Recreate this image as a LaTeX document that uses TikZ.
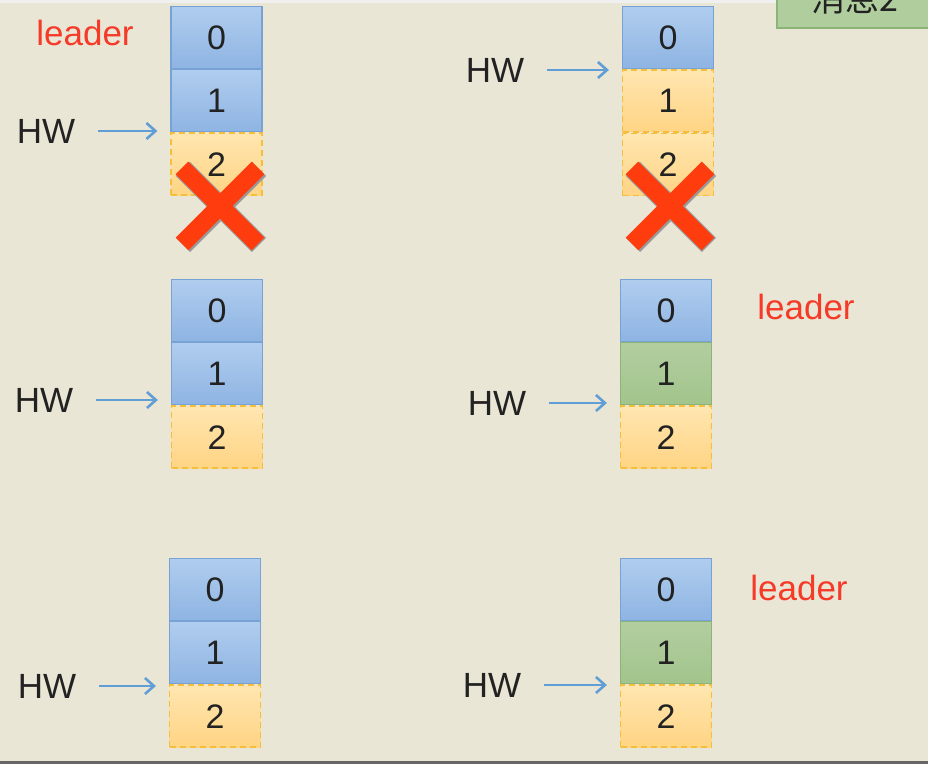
\documentclass[tikz,border=0pt]{standalone}
\usepackage{fontspec}
\setmainfont{Liberation Sans}
\newfontfamily\cjkfont{Noto Sans CJK SC}
\usepackage{tikz}
\usetikzlibrary{arrows.meta,positioning}
\usepackage{xcolor}
\definecolor{PaperBg}{RGB}{234,230,214}
\definecolor{BlueTop}{RGB}{176,205,238}
\definecolor{BlueBot}{RGB}{142,180,227}
\definecolor{BlueEdge}{RGB}{120,162,214}
\definecolor{GreenTop}{RGB}{178,206,160}
\definecolor{GreenBot}{RGB}{162,196,140}
\definecolor{GreenEdge}{RGB}{140,180,118}
\definecolor{OrangeTop}{RGB}{255,230,176}
\definecolor{OrangeBot}{RGB}{255,212,132}
\definecolor{OrangeEdge}{RGB}{247,190,60}
\definecolor{LeaderRed}{RGB}{246,58,40}
\definecolor{CrossRed}{RGB}{255,60,14}
\definecolor{ArrowBlue}{RGB}{98,158,214}
\definecolor{InkGray}{RGB}{34,34,34}

\tikzset{
  cell/.style={minimum width=45.5pt,minimum height=31pt,inner sep=0pt,
    font=\fontsize{17}{20}\selectfont,text=InkGray,line width=0.6pt},
  bluecell/.style={cell,draw=BlueEdge,top color=BlueTop,bottom color=BlueBot},
  greencell/.style={cell,draw=GreenEdge,top color=GreenTop,bottom color=GreenBot},
  orangecell/.style={cell,draw=OrangeEdge,line width=0.8pt,dash pattern=on 3pt off 2pt,
    top color=OrangeTop,bottom color=OrangeBot},
  hwlabel/.style={inner sep=0pt,font=\fontsize{17.5}{20}\selectfont,text=InkGray},
  leaderlabel/.style={inner sep=0pt,font=\fontsize{17.5}{20}\selectfont,text=LeaderRed},
  hwarrow/.style={draw=ArrowBlue,line width=1.3pt,shorten <=11pt,shorten >=6.5pt,
    -{Straight Barb[length=4.5pt,width=8pt]}},
  crossshade/.style={draw=black!40,line width=10pt,line cap=butt},
  crossbar/.style={draw=CrossRed,line width=9pt,line cap=butt},
}

\begin{document}
\begin{tikzpicture}[x=0.5pt,y=-0.5pt]
  % page
  \useasboundingbox (0,0) rectangle (928,764);
  \clip (0,0) rectangle (928,764);
  \fill[PaperBg] (0,0) rectangle (928,764);
  \fill[black!6] (0,0) rectangle (928,3);
  \draw[black!60,line width=1.5pt] (0,763) -- (928,763);

  % message box, cut off at the top
  \node[draw=GreenEdge,fill=GreenTop!90!GreenBot,line width=0.8pt,
        minimum width=80pt,minimum height=30pt,anchor=south west]
    (msg) at (776,29) {};
  \node[font=\cjkfont\fontsize{17}{20}\selectfont,text=InkGray] at (855,-2) {消息2};

  % stack A (top left)
  \node[bluecell,anchor=north] (a0) at (216.5,6) {0};
  \node[bluecell,below=0pt of a0] (a1) {1};
  \node[orangecell,below=0pt of a1] (a2) {2};
  \node[leaderlabel] (lda) at (85,33) {leader};
  \node[hwlabel] (hwa) at (46,131) {HW};
  \draw[hwarrow] (hwa.east) -- (hwa.east -| a1.west);

  % stack B (top right)
  \node[bluecell,anchor=north] (b0) at (668,6) {0};
  \node[orangecell,below=0pt of b0] (b1) {1};
  \node[orangecell,below=0pt of b1] (b2) {2};
  \node[hwlabel] (hwb) at (495,70) {HW};
  \draw[hwarrow] (hwb.east) -- (hwb.east -| b0.west);

  % crosses over the dropped entries
  \foreach \cx in {220,670} {
    \draw[crossshade] (\cx-37,169) -- (\cx+39,245) (\cx-37,245) -- (\cx+39,169);
    \draw[crossbar] (\cx-38,168) -- (\cx+38,244) (\cx-38,244) -- (\cx+38,168);
  }

  % stack C (middle left)
  \node[bluecell,anchor=north] (c0) at (217,279) {0};
  \node[bluecell,below=0pt of c0] (c1) {1};
  \node[orangecell,below=0pt of c1] (c2) {2};
  \node[hwlabel] (hwc) at (44,400) {HW};
  \draw[hwarrow] (hwc.east) -- (hwc.east -| c1.west);

  % stack D (middle right)
  \node[bluecell,anchor=north] (d0) at (666,279) {0};
  \node[greencell,below=0pt of d0] (d1) {1};
  \node[orangecell,below=0pt of d1] (d2) {2};
  \node[leaderlabel] (ldd) at (806,307) {leader};
  \node[hwlabel] (hwd) at (497,403) {HW};
  \draw[hwarrow] (hwd.east) -- (hwd.east -| d1.west);

  % stack E (bottom left)
  \node[bluecell,anchor=north] (e0) at (215,558) {0};
  \node[bluecell,below=0pt of e0] (e1) {1};
  \node[orangecell,below=0pt of e1] (e2) {2};
  \node[hwlabel] (hwe) at (47,686) {HW};
  \draw[hwarrow] (hwe.east) -- (hwe.east -| e1.west);

  % stack F (bottom right)
  \node[bluecell,anchor=north] (f0) at (666,558) {0};
  \node[greencell,below=0pt of f0] (f1) {1};
  \node[orangecell,below=0pt of f1] (f2) {2};
  \node[leaderlabel] (ldf) at (799,588) {leader};
  \node[hwlabel] (hwf) at (492,685) {HW};
  \draw[hwarrow] (hwf.east) -- (hwf.east -| f1.west);
\end{tikzpicture}
\end{document}
